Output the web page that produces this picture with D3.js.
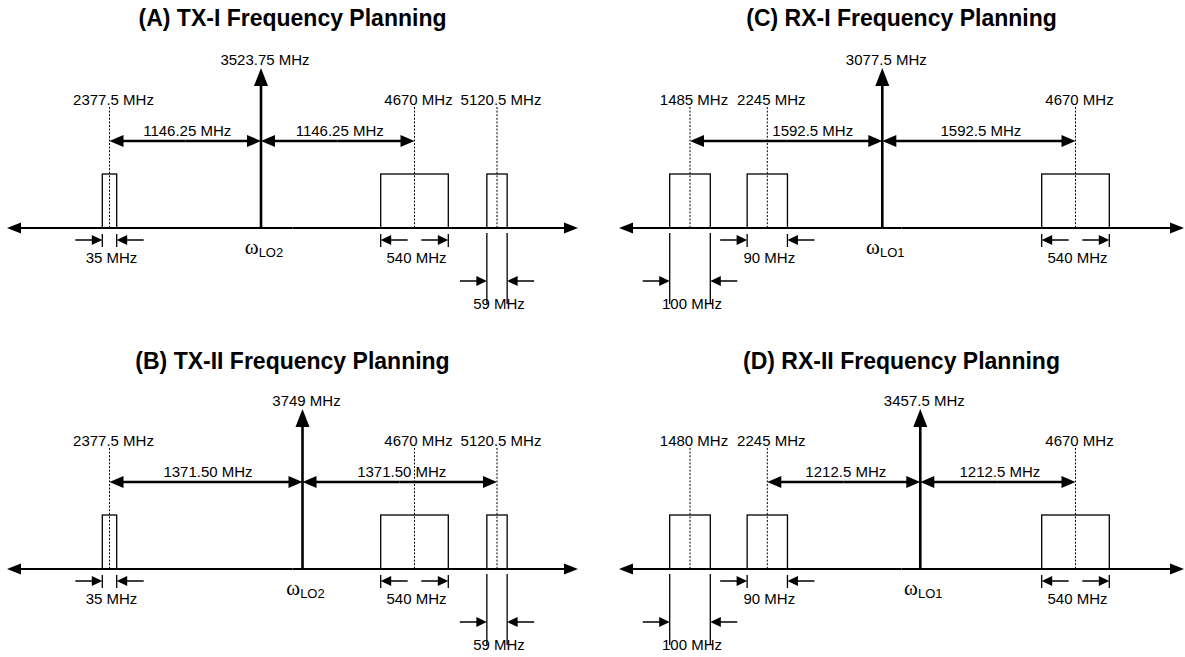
<!DOCTYPE html>
<html lang="en">
<head>
<meta charset="UTF-8">
<script src="https://cdn.jsdelivr.net/npm/d3@7"></script>
<title>Frequency Planning</title>
<style>
    body { margin: 0; background: #fff; }
    svg { display: block; }
    text { font-family: "Liberation Sans", Arial, sans-serif; fill: #000; }
</style>
</head>
<body>
<svg id="chart" width="1185" height="657"></svg>
<script>
    // ---- data (MHz) ----
    const titles = ['(A) TX-I Frequency Planning', '(B) TX-II Frequency Planning',
        '(C) RX-I Frequency Planning', '(D) RX-II Frequency Planning'];
    const loNames = ['LO2', 'LO2', 'LO1', 'LO1'];
    const loFreqs = [3523.75, 3749, 3077.5, 3457.5];
    const toneFreqs = [[2377.5, 4670, 5120.5], [2377.5, 4670, 5120.5], [1485, 2245, 4670], [1480, 2245, 4670]];
    const bandwidths = [[35, 540, 59], [35, 540, 59], [100, 90, 540], [100, 90, 540]];
    const spanEnds = [[2377.5, 4670], [2377.5, 5120.5], [1485, 4670], [2245, 4670]];
    const spanLabels = [['1146.25', '1146.25'], ['1371.50', '1371.50'], ['1592.5', '1592.5'], ['1212.5', '1212.5']];

    // ---- schematic layout (drawing is not to scale) ----
    const layout = [
        { dy: 0,   titleY: 25.5, x0: 7,   x1: 578,  slots: [109.5, 261, 414.5, 497],   widths: [14.4, 67.6, 20.3], marks: ['in', 'out', 'drop'] },
        { dy: 341, titleY: 28,   x0: 7,   x1: 578,  slots: [109.5, 302.5, 414.5, 497], widths: [14.4, 67.6, 20.3], marks: ['in', 'out', 'drop'] },
        { dy: 0,   titleY: 25.5, x0: 619, x1: 1184, slots: [690, 767.3, 882.3, 1075.5], widths: [40.6, 40.3, 67.6], marks: ['drop', 'in', 'out'] },
        { dy: 341, titleY: 28,   x0: 619, x1: 1184, slots: [690, 767.3, 920.3, 1075.5], widths: [40.6, 40.3, 67.6], marks: ['drop', 'in', 'out'] },
    ];

    const axisY = 228, boxH = 54, spanY = axisY - 87, loTop = axisY - 160;
    const svg = d3.select('#chart');

    // line from (x1,y1) to the tip (x2,y2) with a filled head at the tip
    function arrow(g, x1, y1, x2, y2, o) {
        const dx = x2 - x1, dy = y2 - y1, len = Math.hypot(dx, dy);
        const ux = dx / len, uy = dy / len;
        const bx = x2 - ux * o.len, by = y2 - uy * o.len;
        g.append('line')
            .attr('x1', x1).attr('y1', y1).attr('x2', bx + ux).attr('y2', by + uy)
            .attr('stroke', '#000').attr('stroke-width', o.sw);
        g.append('path')
            .attr('d', `M${x2},${y2}L${bx - uy * o.half},${by + ux * o.half}L${bx + uy * o.half},${by - ux * o.half}Z`)
            .attr('fill', '#000');
    }
    function dblArrow(g, xa, xb, y, o) {
        const m = (xa + xb) / 2;
        arrow(g, m, y, xa, y, o);
        arrow(g, m, y, xb, y, o);
    }
    function label(g, x, y, txt) {
        return g.append('text').attr('x', x).attr('y', y)
            .attr('text-anchor', 'middle').style('font-size', '15px').text(txt);
    }

    const small = { sw: 1.5, len: 10.5, half: 5 };
    const spanStyle = { sw: 2.6, len: 14, half: 6 };

    titles.forEach((title, i) => {
        const L = layout[i];
        const g = svg.append('g').attr('transform', `translate(0,${L.dy})`);
        const freqs = [...toneFreqs[i], loFreqs[i]].sort((a, b) => a - b);
        const x = d3.scaleLinear().domain(freqs).range(L.slots);

        g.append('text')
            .attr('x', (L.x0 + L.x1) / 2).attr('y', L.titleY)
            .attr('text-anchor', 'middle')
            .style('font-size', '23px').style('font-weight', 'bold')
            .text(title);

        // signal bands, marker lines, labels
        toneFreqs[i].forEach((f, j) => {
            const cx = x(f), w = L.widths[j];
            g.append('rect')
                .attr('x', cx - w / 2).attr('y', axisY - boxH)
                .attr('width', w).attr('height', boxH)
                .attr('fill', 'none').attr('stroke', '#000').attr('stroke-width', 1.3);
            g.append('line')
                .attr('x1', cx).attr('x2', cx).attr('y1', axisY - 121).attr('y2', axisY)
                .attr('stroke', '#000').attr('stroke-width', 1).attr('stroke-dasharray', '2,1.6');
            label(g, cx + 4, axisY - 123, `${f} MHz`);

            // bandwidth annotation
            const xl = cx - w / 2, xr = cx + w / 2, bw = `${bandwidths[i][j]} MHz`;
            const mark = L.marks[j];
            if (mark === 'drop') {
                [xl, xr].forEach(xx => g.append('line')
                    .attr('x1', xx).attr('x2', xx).attr('y1', axisY + 5).attr('y2', axisY + 76)
                    .attr('stroke', '#000').attr('stroke-width', 1.3));
                arrow(g, xl - 27, axisY + 53, xl, axisY + 53, small);
                arrow(g, xr + 27, axisY + 53, xr, axisY + 53, small);
                label(g, cx + 2, axisY + 80.5, bw);
            } else {
                [xl, xr].forEach(xx => g.append('line')
                    .attr('x1', xx).attr('x2', xx).attr('y1', axisY + 6).attr('y2', axisY + 19)
                    .attr('stroke', '#000').attr('stroke-width', 1.3));
                if (mark === 'in') {
                    arrow(g, xl - 27, axisY + 12, xl, axisY + 12, small);
                    arrow(g, xr + 27, axisY + 12, xr, axisY + 12, small);
                } else {
                    arrow(g, xl + 27, axisY + 12, xl, axisY + 12, small);
                    arrow(g, xr - 27, axisY + 12, xr, axisY + 12, small);
                }
                label(g, cx + 2, axisY + 34.5, bw);
            }
        });

        // local oscillator
        const lx = x(loFreqs[i]);
        arrow(g, lx, axisY, lx, loTop, { sw: 2.6, len: 18, half: 7 });
        label(g, lx + 4, axisY - 163, `${loFreqs[i]} MHz`);
        const om = g.append('text').attr('x', lx + 3).attr('y', axisY + 26).attr('text-anchor', 'middle');
        om.append('tspan').style('font-family', '"Liberation Serif", "Times New Roman", serif').style('font-size', '21px').text('ω');
        om.append('tspan').attr('dy', 3).style('font-size', '13px').text(loNames[i]);

        // spans from the images to the LO
        const inner = toneFreqs[i].map(x);
        spanEnds[i].forEach((f, k) => {
            const xa = Math.min(x(f), lx), xb = Math.max(x(f), lx);
            dblArrow(g, xa, xb, spanY, spanStyle);
            const t = label(g, (xa + xb) / 2 + 2, spanY - 5, `${spanLabels[i][k]} MHz`);
            const bb = t.node().getBBox();
            // keep the label clear of a marker line crossing its left part
            inner.filter(v => v > xa + 1 && v < xb - 1).forEach(v => {
                if (v > bb.x && v < bb.x + bb.width * 0.4) t.attr('x', v + 5 + bb.width / 2);
            });
        });

        // frequency axis
        dblArrow(g, L.x0, L.x1, axisY, { sw: 2.2, len: 14, half: 5.5 });
    });
</script>
</body>
</html>
